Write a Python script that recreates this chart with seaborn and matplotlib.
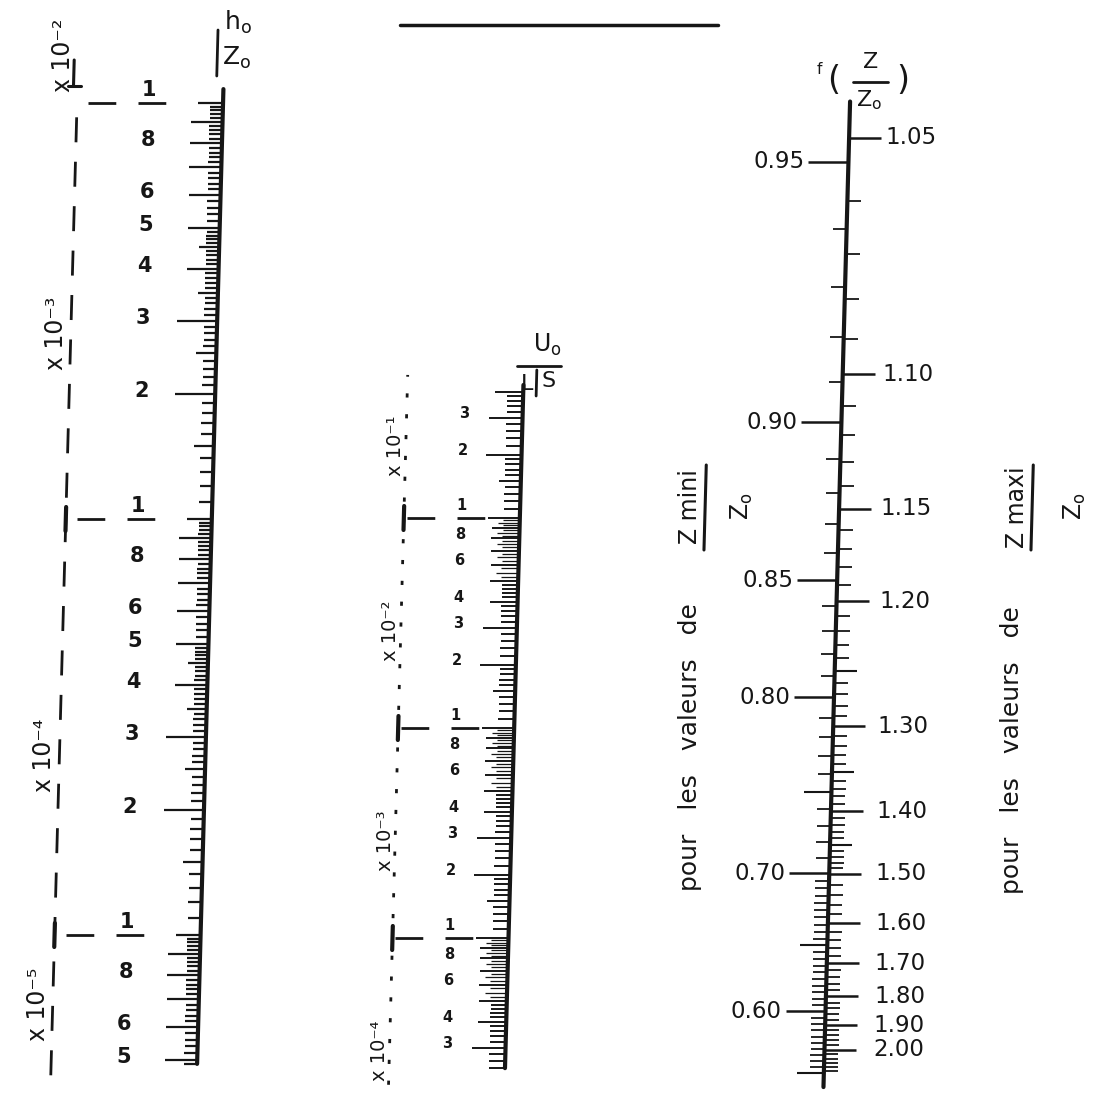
import numpy as np
import pandas as pd
import matplotlib
matplotlib.use("Agg")
import matplotlib.pyplot as plt
import matplotlib.transforms as mtransforms
import seaborn as sns

# ---------------- data ----------------
# Scale 1 : h0 / Z0 (logarithmic)
h_labels = ["1", "8", "6", "5", "4", "3", "2",
            "1", "8", "6", "5", "4", "3", "2",
            "1", "8", "6", "5"]
h_values = [1e-2, 8e-3, 6e-3, 5e-3, 4e-3, 3e-3, 2e-3,
            1e-3, 8e-4, 6e-4, 5e-4, 4e-4, 3e-4, 2e-4,
            1e-4, 8e-5, 6e-5, 5e-5]
h_decades = [1e-2, 1e-3, 1e-4]
h_factor_labels = ["x 10⁻²", "x 10⁻³", "x 10⁻⁴", "x 10⁻⁵"]
h_factor_values = [1.3e-2, 2.8e-3, 2.7e-4, 6.8e-5]
h_axis_range = [4.9e-5, 1.08e-2]
h_guide_range = [4.6e-5, 9.6e-3]

# Scale 2 : U0 / (L sqrt S) (logarithmic)
u_labels = ["3", "2", "1", "8", "6", "4", "3", "2",
            "1", "8", "6", "4", "3", "2",
            "1", "8", "6", "4", "3"]
u_values = [3e-1, 2e-1, 1e-1, 8e-2, 6e-2, 4e-2, 3e-2, 2e-2,
            1e-2, 8e-3, 6e-3, 4e-3, 3e-3, 2e-3,
            1e-3, 8e-4, 6e-4, 4e-4, 3e-4]
u_decades = [1e-1, 1e-2, 1e-3]
u_factor_labels = ["x 10⁻¹", "x 10⁻²", "x 10⁻³", "x 10⁻⁴"]
u_factor_values = [2.2e-1, 2.9e-2, 2.9e-3, 2.9e-4]
u_axis_range = [2.4e-4, 0.43]
u_guide_range = [2.0e-4, 0.48]

# Scale 3 : f(Z/Z0)  with f(z) = ln z + 1/z - 1 on a logarithmic support
zmin_labels = ["0.95", "0.90", "0.85", "0.80", "0.70", "0.60"]
zmin_values = [0.95, 0.90, 0.85, 0.80, 0.70, 0.60]
zmax_labels = ["1.05", "1.10", "1.15", "1.20", "1.30", "1.40", "1.50",
               "1.60", "1.70", "1.80", "1.90", "2.00"]
zmax_values = [1.05, 1.10, 1.15, 1.20, 1.30, 1.40, 1.50,
               1.60, 1.70, 1.80, 1.90, 2.00]
zmin_medium = [0.75, 0.65, 0.55]
zmax_medium = [1.25, 1.35, 1.45]
z_axis_range = [1.045, 2.18]


def fz(z):
    z = np.asarray(z, dtype=float)
    return np.log(z) + 1.0 / z - 1.0


# ---------------- style ----------------
sns.set_theme(style="white")
plt.rcParams["font.family"] = ["DejaVu Sans"]
plt.rcParams["mathtext.default"] = "regular"
INK = "#161616"

W, H = 1094, 1099
fig = plt.figure(figsize=(W / 100, H / 100), dpi=100, facecolor="white")

# the scanned sheet is slightly skewed: x drifts left going down
K = 0.027
SHEAR = mtransforms.Affine2D.from_values(1, 0, K, 1, -K * 550, 0)
HALF_SHEAR = mtransforms.Affine2D.from_values(1, 0, K / 2, 1, -K / 2 * 550, 0)


def tr(ax, dy=0, shear=SHEAR):
    t = ax.transData
    if dy:
        t = t + mtransforms.Affine2D().translate(0, dy)
    return t + shear


def make_ax(ylim, log):
    ax = fig.add_axes([0, 0, 1, 1])
    ax.set_xlim(0, W)
    if log:
        ax.set_yscale("log")
    ax.set_ylim(*ylim)
    ax.set_autoscale_on(False)
    ax.axis("off")
    ax.patch.set_visible(False)
    return ax


# calibration of each scale on the sheet (pixel row of a reference value, px per decade)
H_REF, H_DEC = 103, 416          # 1e-2 at row 103
U_REF, U_DEC = 518, 210          # 1e-1 at row 518
F_REF, F_DEC = 138, 411.2        # f(1.05) at row 138
f_ref_log = np.log10(fz(1.05))

bg = make_ax((H, 0), log=False)
axL = make_ax((10 ** (-2 - (H - H_REF) / H_DEC), 10 ** (-2 + H_REF / H_DEC)), log=True)
axM = make_ax((10 ** (-1 - (H - U_REF) / U_DEC), 10 ** (-1 + U_REF / U_DEC)), log=True)
axR = make_ax((10 ** (f_ref_log + (H - F_REF) / F_DEC), 10 ** (f_ref_log - F_REF / F_DEC)), log=True)


def log_ticks(lo, hi, spec):
    vals, lens = [], []
    for e in range(-6, 1):
        d = 10.0 ** e
        for m, ln in spec:
            v = m * d
            if lo * 0.999 <= v <= hi * 1.001:
                vals.append(v)
                lens.append(ln)
    return np.array(vals), np.array(lens)


def not_int(m):
    return abs(m - round(m)) > 1e-6


# ---------------- scale 1 ----------------
XL = 211
specL = [(1.0, 25)]
specL += [(round(m, 2), 20 if abs(m - 1.5) < 1e-6 else 13) for m in np.arange(1.1, 1.95, 0.1)]
specL += [(2.0, 40), (3.0, 40)] + [(float(m), 32) for m in range(4, 10)]
specL += [(round(m, 2), 20 if abs(m * 10 % 10 - 5) < 1e-6 else 13)
          for m in np.arange(2.1, 4.95, 0.1) if not_int(m)]
specL += [(round(m, 2), 13) for m in np.arange(5.2, 9.85, 0.2) if not_int(m)]
tvL, tlL = log_ticks(h_axis_range[0], h_axis_range[1], specL)
axL.hlines(tvL, XL - tlL, XL, colors=INK, lw=1.6, transform=tr(axL))
dfL = pd.DataFrame({"x": [XL, XL], "y": h_axis_range})
sns.lineplot(data=dfL, x="x", y="y", ax=axL, color=INK, lw=3.0, estimator=None,
             sort=False, legend=False, transform=tr(axL))

for lab, v in zip(h_labels, h_values):
    dy = 13 if lab == "1" else 3
    axL.text(137, v, lab, ha="center", va="center", fontsize=15, fontweight="bold",
             color=INK, transform=tr(axL, dy))
for lab, v in zip(h_factor_labels, h_factor_values):
    axL.text(50, v, lab, ha="center", va="center", rotation=90, fontsize=17,
             color=INK, transform=tr(axL))
axL.plot([65, 65], h_guide_range, color=INK, lw=2.0, ls=(0, (9, 7)), transform=tr(axL))
for v in h_decades:
    axL.plot([76, 176], [v, v], color=INK, lw=2.0, ls=(0, (10, 8)), transform=tr(axL))
for v in h_decades[1:]:
    axL.plot([65, 65], [v * 10 ** (12 / H_DEC), v * 10 ** (-12 / H_DEC)], color=INK,
             lw=3.0, transform=tr(axL))
bg.plot([61, 61], [60, 86], color=INK, lw=2.2, transform=bg.transData + SHEAR)
bg.plot([55, 68], [86, 86], color=INK, lw=2.2, transform=bg.transData + SHEAR)

# ---------------- scale 2 ----------------
XM = 519
specM = [(1.0, 32)]
specM += [(round(m, 2), 22 if abs(m - 1.5) < 1e-6 else 16) for m in np.arange(1.1, 1.95, 0.1)]
specM += [(2.0, 36), (3.0, 34)] + [(float(m), 28) for m in range(4, 10)]
specM += [(round(m, 2), 16) for m in np.arange(2.2, 4.85, 0.2) if not_int(m)]
specMf = [(round(m, 2), 22 if abs(m * 2 - round(m * 2)) < 1e-6 else 17)
          for m in np.arange(5.25, 9.8, 0.25) if not_int(m)]
tvM, tlM = log_ticks(u_axis_range[0], 0.4, specM)
tvMf, tlMf = log_ticks(u_axis_range[0], 0.4, specMf)
axM.hlines(tvM, XM - tlM, XM, colors=INK, lw=1.4, transform=tr(axM))
axM.hlines(tvMf, XM - tlMf, XM, colors=INK, lw=0.9, transform=tr(axM))
dfM = pd.DataFrame({"x": [XM, XM], "y": u_axis_range})
sns.lineplot(data=dfM, x="x", y="y", ax=axM, color=INK, lw=3.0, estimator=None,
             sort=False, legend=False, transform=tr(axM))
for lab, v in zip(u_labels, u_values):
    dy = 12 if lab == "1" else 4
    axM.text(460, v, lab, ha="center", va="center", fontsize=10.5, fontweight="bold",
             color=INK, transform=tr(axM, dy))
for lab, v in zip(u_factor_labels, u_factor_values):
    axM.text(393, v, lab, ha="center", va="center", rotation=90, fontsize=14,
             color=INK, transform=tr(axM))
axM.plot([403, 403], u_guide_range, color=INK, lw=2.0, ls=(0, (1.5, 6)), transform=tr(axM))
for v in u_decades:
    axM.plot([406, 492], [v, v], color=INK, lw=2.0, ls=(0, (10, 8)), transform=tr(axM))
    axM.plot([403, 403], [v * 10 ** (12 / U_DEC), v * 10 ** (-12 / U_DEC)], color=INK,
             lw=3.0, transform=tr(axM))

# ---------------- scale 3 ----------------
XR = 838
zmin_minor = sorted(set(np.round(np.arange(0.55, 0.955, 0.01), 3)) |
                    set(np.round(np.arange(0.555, 0.70, 0.01), 3)))
zmin_minor = [z for z in zmin_minor if not any(abs(z - m) < 1e-6 for m in zmin_values + zmin_medium)]
zmax_minor = sorted(set(np.round(np.arange(1.06, 1.495, 0.01), 3)) |
                    set(np.round(np.arange(1.52, 2.105, 0.02), 3)))
zmax_minor = [z for z in zmax_minor if not any(abs(z - m) < 1e-6 for m in zmax_values + zmax_medium)]

axR.hlines(fz(zmin_values), XR - 40, XR, colors=INK, lw=1.8, transform=tr(axR))
axR.hlines(fz(zmin_medium), XR - 27, XR, colors=INK, lw=1.5, transform=tr(axR))
axR.hlines(fz(zmin_minor), XR - 14, XR, colors=INK, lw=1.3, transform=tr(axR))
axR.hlines(fz(zmax_values), XR, XR + 32, colors=INK, lw=1.8, transform=tr(axR))
axR.hlines(fz(zmax_medium), XR, XR + 22, colors=INK, lw=1.5, transform=tr(axR))
axR.hlines(fz(zmax_minor), XR, XR + 14, colors=INK, lw=1.3, transform=tr(axR))
dfR = pd.DataFrame({"x": [XR, XR], "y": fz(z_axis_range)})
sns.lineplot(data=dfR, x="x", y="y", ax=axR, color=INK, lw=3.0, estimator=None,
             sort=False, legend=False, transform=tr(axR))
for lab, z in zip(zmin_labels, zmin_values):
    axR.text(XR - 44, fz(z), lab, ha="right", va="center", fontsize=16.5, color=INK,
             transform=tr(axR))
for lab, z in zip(zmax_labels, zmax_values):
    axR.text(880, fz(z), lab, ha="left", va="center", fontsize=16.5, color=INK,
             transform=tr(axR, shear=HALF_SHEAR))

# ---------------- titles and notes ----------------
TB = bg.transData + SHEAR
bg.plot([386, 704], [25, 25], color=INK, lw=2.5, transform=TB)

bg.text(224, 22, "$h_o$", ha="center", va="center", fontsize=18, color=INK, transform=TB)
bg.text(223, 58, "$Z_o$", ha="center", va="center", fontsize=18, color=INK, transform=TB)
bg.plot([204, 204], [30, 76], color=INK, lw=2.0, transform=TB)

bg.text(542, 345, "$U_o$", ha="center", va="center", fontsize=17, color=INK, transform=TB)
bg.plot([512, 556], [366, 366], color=INK, lw=2.0, transform=TB)
bg.text(523, 384, "L", ha="center", va="center", fontsize=16, color=INK, transform=TB)
bg.plot([532, 532], [370, 396], color=INK, lw=2.0, transform=TB)
bg.text(544, 381, "S", ha="center", va="center", fontsize=16, color=INK, transform=TB)

bg.text(806, 70, "f", ha="center", va="center", fontsize=11, color=INK, transform=TB)
bg.text(821, 80, "(", ha="center", va="center", fontsize=24, color=INK, transform=TB)
bg.text(857, 62, "Z", ha="center", va="center", fontsize=16, color=INK, transform=TB)
bg.plot([840, 875], [82, 82], color=INK, lw=2.0, transform=TB)
bg.text(857, 100, "$Z_o$", ha="center", va="center", fontsize=16, color=INK, transform=TB)
bg.text(890, 80, ")", ha="center", va="center", fontsize=24, color=INK, transform=TB)

for xp, yp, word, xb, zx in [(695, 747, "Z mini", 704, 741), (1017, 750, "Z maxi", 1031, 1074)]:
    bg.text(xp, yp, "pour   les   valeurs   de", rotation=90, ha="center", va="center",
            fontsize=18, color=INK, transform=TB)
    bg.text(xb - 15, 507, word, rotation=90, ha="center", va="center", fontsize=17,
            color=INK, transform=TB)
    bg.plot([xb, xb], [465, 550], color=INK, lw=2.2, transform=TB)
    bg.text(zx, 506, "$Z_o$", rotation=90, ha="center", va="center", fontsize=17,
            color=INK, transform=TB)

for ax in (bg, axL, axM, axR):
    for art in list(ax.lines) + list(ax.collections) + list(ax.texts):
        art.set_clip_on(False)

fig.savefig("out.png", dpi=100, facecolor="white")
